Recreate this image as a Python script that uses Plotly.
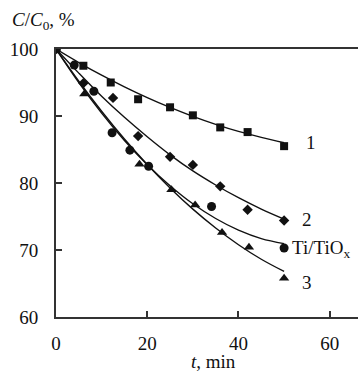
import plotly.graph_objects as go

# ---- data ----
t_sq = [0, 6, 12, 18, 25, 30, 36, 42, 50]
v_sq = [100, 97.5, 95.0, 92.5, 91.3, 90.1, 88.3, 87.6, 85.5]

t_di = [0, 6, 12.5, 18, 25, 30, 36, 42, 50]
v_di = [100, 94.9, 92.7, 87.0, 83.9, 82.7, 79.5, 76.0, 74.4]

t_ci = [0, 4, 8.3, 12.3, 16.2, 20.3, 34.1, 50]
v_ci = [100, 97.6, 93.7, 87.5, 84.9, 82.5, 76.5, 70.3]

t_tr = [0, 6.2, 18.3, 25.3, 30.5, 36.4, 42.3, 50]
v_tr = [100, 93.3, 82.8, 79.0, 76.7, 72.6, 70.4, 65.8]

# fitted curves as drawn (read at 5-min steps)
t_fit = [0, 5, 10, 15, 20, 25, 30, 35, 40, 45, 50]
fit_1 = [100, 97.98, 96.1, 94.36, 92.75, 91.28, 89.95, 88.76, 87.7, 86.8, 86.0]
fit_2 = [100, 96.4, 92.95, 89.8, 86.9, 84.2, 81.8, 79.7, 77.8, 76.1, 74.6]
fit_ti = [100, 94.98, 90.43, 86.35, 82.74, 79.6, 76.9, 74.7, 72.96, 71.7, 70.95]
fit_3 = [100, 95.19, 90.71, 86.56, 82.75, 79.26, 76.1, 73.28, 70.79, 68.62, 66.8]

labels = ["1", "2", "Ti/TiO<sub>x</sub>", "3"]
label_x = [54.8, 53.9, 51.7, 53.9]
label_y = [86.0, 74.5, 70.2, 65.1]

x_ticks = [0, 20, 40, 60]
y_ticks = [60, 70, 80, 90, 100]

FONT = "Liberation Serif, Times New Roman, serif"
ink = "#111111"
FS = 19

fig = go.Figure()
for fv in [fit_1, fit_2, fit_ti, fit_3]:
    fig.add_trace(go.Scatter(x=t_fit, y=fv, mode="lines", line=dict(color=ink, width=1.4, shape="spline"),
                             showlegend=False, hoverinfo="skip"))

fig.add_trace(go.Scatter(x=t_sq, y=v_sq, mode="markers", marker=dict(symbol="square", size=8, color=ink), showlegend=False))
fig.add_trace(go.Scatter(x=t_di, y=v_di, mode="markers", marker=dict(symbol="diamond", size=8, color=ink), showlegend=False))
fig.add_trace(go.Scatter(x=t_ci, y=v_ci, mode="markers", marker=dict(symbol="circle", size=9, color=ink), showlegend=False))
fig.add_trace(go.Scatter(x=t_tr, y=v_tr, mode="markers", marker=dict(symbol="triangle-up", size=9, color=ink), showlegend=False))

for lab, lx, ly in zip(labels, label_x, label_y):
    fig.add_annotation(x=lx, y=ly, text=lab, showarrow=False, xanchor="left", yanchor="middle",
                       xshift=-2, font=dict(family=FONT, size=FS, color=ink))

fig.add_annotation(xref="paper", yref="paper", x=-0.152, y=1.106, xanchor="left", yanchor="middle",
                   text="<i>C</i>/<i>C</i><sub>0</sub>, %", showarrow=False,
                   font=dict(family=FONT, size=FS, color=ink))
fig.add_annotation(xref="paper", yref="paper", x=0.52, y=-0.166, xanchor="center", yanchor="middle",
                   text="<i>t</i>, min", showarrow=False,
                   font=dict(family=FONT, size=FS, color=ink))

fig.update_layout(
    width=358, height=372,
    margin=dict(l=56, r=0, t=49, b=55),
    paper_bgcolor="white", plot_bgcolor="white",
    font=dict(family=FONT, size=FS, color=ink),
    xaxis=dict(range=[0, 66.2], tickvals=x_ticks, ticks="inside", ticklen=6, tickwidth=1.5, tickcolor="#333",
               showline=True, linecolor="#333", linewidth=2, mirror=True, showgrid=False, zeroline=False,
               ticklabelstandoff=8),
    yaxis=dict(range=[60, 100], tickvals=y_ticks, ticks="inside", ticklen=6, tickwidth=1.5, tickcolor="#333",
               showline=True, linecolor="#333", linewidth=2, showgrid=False, zeroline=False,
               ticklabelstandoff=12),
)

fig.write_html("out.html", config={"displayModeBar": False},
               post_script="document.body.style.margin='0';document.body.style.overflow='hidden';")
